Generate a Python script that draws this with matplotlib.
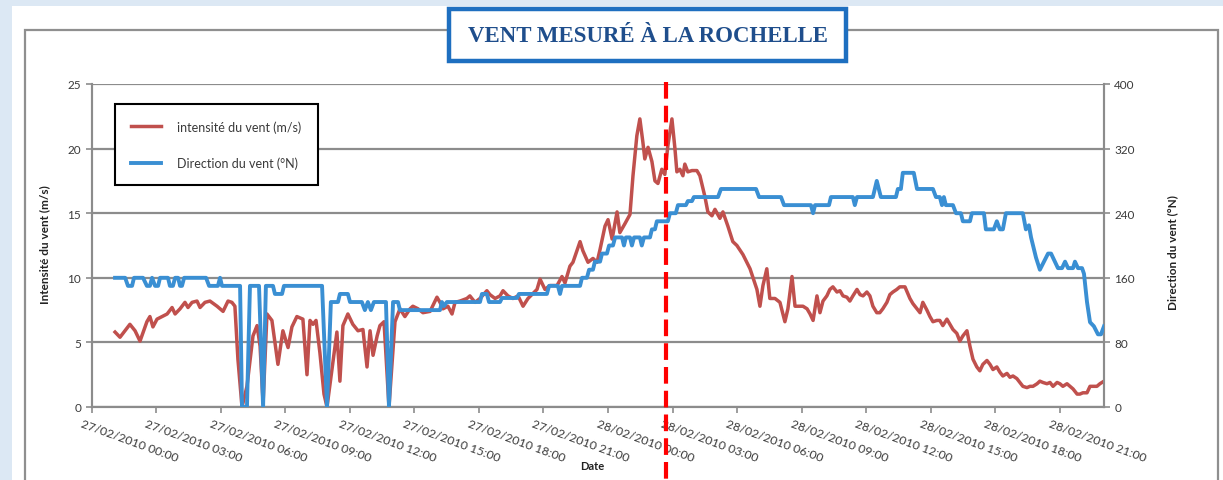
import matplotlib
matplotlib.use("Agg")
import matplotlib.pyplot as plt
import matplotlib.transforms as mtransforms
from matplotlib.patches import Rectangle
from matplotlib.lines import Line2D

# hours since 27/02/2010 00:00
speed_hours = [
    1.09, 1.32, 1.78, 2.02, 2.25, 2.57, 2.71, 2.85, 3.04, 3.27, 3.51, 3.74, 3.88, 4.11, 4.34,
    4.48, 4.67, 4.90, 5.04, 5.27, 5.50, 5.83, 6.11, 6.34, 6.52, 6.66, 6.80, 6.99, 7.22, 7.50,
    7.69, 7.83, 7.97, 8.15, 8.38, 8.66, 8.89, 9.13, 9.31, 9.54, 9.82, 10.01, 10.15, 10.29,
    10.43, 10.61, 10.80, 10.94, 11.22, 11.40, 11.54, 11.68, 11.91, 12.14, 12.38, 12.61, 12.80,
    12.94, 13.08, 13.27, 13.40, 13.59, 13.82, 14.10, 14.33, 14.56, 14.80, 14.93, 15.17, 15.40,
    15.73, 16.05, 16.19, 16.33, 16.56, 16.75, 16.89, 17.12, 17.44, 17.58, 17.82, 18.05, 18.37,
    18.51, 18.75, 18.98, 19.12, 19.35, 19.58, 19.82, 20.05, 20.28, 20.70, 20.84, 21.07, 21.30,
    21.63, 21.86, 22.00, 22.23, 22.37, 22.70, 22.83, 23.07, 23.30, 23.49, 23.63, 23.86, 24.00,
    24.19, 24.42, 24.55, 24.79, 25.02, 25.16, 25.34, 25.48, 25.62, 25.71, 25.86, 26.04, 26.18,
    26.32, 26.50, 26.64, 26.78, 26.97, 27.11, 27.20, 27.34, 27.48, 27.57, 27.71, 27.90, 28.13,
    28.27, 28.50, 28.64, 28.83, 28.97, 29.20, 29.34, 29.57, 29.80, 29.99, 30.27, 30.60, 30.92,
    31.06, 31.20, 31.38, 31.52, 31.76, 31.99, 32.22, 32.36, 32.55, 32.69, 32.92, 33.06, 33.25,
    33.39, 33.53, 33.71, 33.85, 33.99, 34.17, 34.31, 34.45, 34.64, 34.78, 34.92, 35.10, 35.24,
    35.38, 35.57, 35.71, 35.85, 36.03, 36.17, 36.31, 36.49, 36.63, 36.77, 36.96, 37.10, 37.24,
    37.42, 37.56, 37.80, 38.03, 38.17, 38.36, 38.50, 38.63, 38.82, 38.96, 39.10, 39.28, 39.42,
    39.56, 39.75, 39.89, 40.03, 40.21, 40.35, 40.49, 40.68, 40.82, 40.96, 41.14, 41.28, 41.42,
    41.61, 41.75, 41.89, 42.07, 42.21, 42.35, 42.54, 42.68, 42.82, 43.00, 43.14, 43.28, 43.47,
    43.61, 43.75, 43.94, 44.07, 44.21, 44.40, 44.54, 44.68, 44.87, 45.00, 45.14, 45.33, 45.47,
    45.61, 45.80, 45.93, 46.07, 46.26, 46.40, 46.54, 46.72, 46.86, 47.05,
]
speed = [
    5.8, 5.4, 6.4, 5.9, 5.1, 6.6, 7.0, 6.2, 6.8, 7.0, 7.2, 7.7, 7.2, 7.6, 8.1,
    7.7, 8.1, 8.2, 7.7, 8.1, 8.2, 7.8, 7.4, 8.2, 8.1, 7.8, 3.7, 0.0, 1.6, 5.5,
    6.3, 4.7, 0.3, 7.2, 6.7, 3.3, 5.9, 4.6, 6.2, 7.0, 6.8, 2.5, 6.7, 6.4,
    6.7, 4.2, 1.0, 0.0, 3.5, 5.8, 2.0, 6.3, 7.2, 6.4, 5.9, 6.0, 3.1,
    5.9, 4.0, 5.5, 6.3, 6.6, 0.0, 6.6, 7.6, 7.0, 7.6, 7.8, 7.6, 7.3,
    7.4, 8.5, 8.1, 7.6, 7.8, 7.2, 8.1, 8.2, 8.4, 8.6, 8.1, 8.4, 9.0,
    8.7, 8.4, 8.6, 9.0, 8.6, 8.4, 8.6, 7.8, 8.4, 9.1, 9.9, 9.1, 9.4,
    9.4, 10.1, 9.6, 10.9, 11.2, 12.8, 12.1, 11.2, 11.5, 11.2, 12.2, 14.0, 14.5,
    13.0, 15.1, 13.5, 14.2, 14.9, 17.9, 21.0, 22.3, 20.5, 19.2, 20.1, 19.0, 17.5,
    17.3, 18.4, 18.0, 20.2, 22.3, 20.0, 18.2, 18.4, 17.9, 18.8, 18.2, 18.3, 18.3,
    17.9, 16.3, 15.1, 14.8, 15.3, 14.6, 15.1, 14.0, 12.8, 12.5, 11.8, 10.7, 9.1,
    7.8, 9.4, 10.7, 8.4, 8.4, 8.1, 6.6, 7.6, 10.1, 7.8, 7.8, 7.8, 7.6,
    7.2, 6.7, 8.6, 7.3, 8.2, 8.6, 9.1, 9.3, 8.9, 9.0, 8.6, 8.5, 8.2,
    8.6, 9.1, 8.7, 8.6, 8.9, 8.6, 7.8, 7.3, 7.3, 7.6, 8.1, 8.7, 8.9,
    9.1, 9.3, 9.3, 8.4, 8.0, 7.6, 7.3, 8.1, 7.5, 7.0, 6.6, 6.7, 6.7,
    6.3, 6.8, 6.4, 6.0, 5.7, 5.1, 5.5, 5.9, 4.7, 3.7, 3.1, 2.8, 3.3,
    3.6, 3.3, 2.9, 3.1, 2.7, 2.4, 2.6, 2.3, 2.4, 2.2, 1.9, 1.6, 1.5,
    1.6, 1.6, 1.8, 2.0, 1.9, 1.8, 1.9, 1.6, 1.9, 1.8, 1.6, 1.8, 1.6,
    1.4, 1.0, 1.0, 1.1, 1.1, 1.6, 1.6, 1.6, 1.8, 2.0,
]

dir_hours = [
    1.09, 1.56, 1.69, 1.88, 1.97, 2.39, 2.57, 2.71, 2.81, 2.95, 3.09, 3.18, 3.55, 3.64, 3.78,
    3.88, 4.02, 4.11, 4.20, 4.30, 5.32, 5.46, 5.87, 5.97, 6.06, 6.90, 6.99, 7.22, 7.36, 7.78,
    7.97, 8.10, 8.43, 8.52, 8.85, 8.94, 10.71, 10.94, 11.12, 11.45, 11.54, 11.91, 12.01, 12.56,
    12.70, 12.84, 12.98, 13.12, 13.68, 13.82, 14.01, 14.24, 14.33, 16.19, 16.28, 16.38, 16.51,
    18.05, 18.14, 18.37, 18.47, 18.98, 19.07, 19.77, 19.86, 21.16, 21.26, 21.67, 21.77, 21.86,
    22.70, 22.79, 23.02, 23.12, 23.30, 23.39, 23.63, 23.72, 23.95, 24.05, 24.23, 24.33, 24.65,
    24.74, 24.83, 25.02, 25.11, 25.21, 25.48, 25.57, 25.67, 25.95, 26.04, 26.18, 26.27, 26.78,
    26.88, 27.15, 27.25, 27.62, 27.71, 27.90, 27.99, 29.11, 29.25, 30.88, 31.02, 32.04, 32.18,
    33.43, 33.53, 33.62, 34.27, 34.36, 35.38, 35.47, 35.57, 36.31, 36.49, 36.68, 37.38, 37.47,
    37.61, 37.70, 38.21, 38.36, 39.10, 39.24, 39.42, 39.52, 39.61, 39.70, 40.03, 40.17, 40.40,
    40.49, 40.82, 40.91, 41.47, 41.56, 41.93, 42.07, 42.21, 42.35, 42.49, 43.28, 43.42, 43.56,
    43.66, 43.89, 44.07, 44.26, 44.45, 44.59, 44.77, 44.91, 45.10, 45.24, 45.38, 45.61, 45.70,
    45.84, 46.03, 46.12, 46.26, 46.40, 46.58, 46.77, 46.91, 47.05,
]
direction = [
    160, 160, 150, 150, 160, 160, 150, 150, 160, 150, 150, 160, 160, 150, 150,
    160, 160, 150, 150, 160, 160, 150, 150, 160, 150, 150, 0, 0, 150, 150,
    0, 150, 150, 140, 140, 150, 150, 0, 130, 130, 140, 140, 130, 130,
    120, 130, 120, 130, 130, 0, 130, 130, 120, 120, 130, 125, 130,
    130, 140, 140, 130, 130, 135, 135, 140, 140, 150, 150, 140, 150,
    150, 160, 160, 170, 170, 180, 180, 190, 190, 200, 200, 210, 210,
    200, 210, 210, 200, 210, 210, 200, 210, 210, 220, 220, 230, 230,
    240, 240, 250, 250, 255, 255, 260, 260, 270, 270, 260, 260, 250,
    250, 240, 250, 250, 260, 260, 250, 260, 260, 280, 260, 260, 270,
    270, 290, 290, 270, 270, 260, 260, 250, 260, 250, 250, 240, 240,
    230, 230, 240, 240, 220, 220, 230, 220, 220, 240, 240, 220, 225,
    210, 185, 170, 180, 190, 190, 180, 172, 172, 180, 172, 172, 180,
    172, 172, 165, 130, 105, 100, 90, 90, 100,
]

tick_hours = list(range(0, 48, 3))
tick_labels = [f"27/02/2010 {h:02d}:00" for h in range(0, 24, 3)] + \
              [f"28/02/2010 {h:02d}:00" for h in range(0, 24, 3)]

W, H = 1223, 481
def fx(x):
    return x / W
def fy(y):
    return 1 - y / H

plt.rcParams['font.family'] = ['Lato', 'DejaVu Sans']
RED = '#c0504d'
BLUE = '#3a8fd3'
GRID = '#8c8c8c'
TXT = '#3a3a3a'

fig = plt.figure(figsize=(W / 100, H / 100), dpi=100)
fig.patch.set_facecolor('#dce8f4')

# white panel and grey chart frame
fig.add_artist(Rectangle((fx(12), 0), 1 - fx(12), fy(7), transform=fig.transFigure,
                         fc='white', ec='none', zorder=-20))
fig.add_artist(Rectangle((fx(25), -0.05), fx(1218) - fx(25), fy(31) + 0.05,
                         transform=fig.transFigure, fill=False, ec='#8f8f8f', lw=1.6, zorder=-10))

ax = fig.add_axes([fx(91.6), fy(408), fx(1104) - fx(91.6), (408 - 85) / H])
ax2 = ax.twinx()

ax.plot(speed_hours, speed, color=RED, lw=2.5, label='intensité du vent (m/s)', zorder=3)
ax2.plot(dir_hours, direction, color=BLUE, lw=2.8, label='Direction du vent (°N)', zorder=3)

ax.set_xlim(0, 47.05)
ax.set_ylim(0, 25)
ax2.set_ylim(0, 400)
ax.set_yticks(range(0, 26, 5))
ax2.set_yticks(range(0, 401, 80))
ax.yaxis.grid(True, color=GRID, lw=1.6)
ax.set_axisbelow(True)

for a in (ax, ax2):
    for s in a.spines.values():
        s.set_color(GRID)
        s.set_linewidth(1.5)
    a.spines['top'].set_visible(False)
    a.tick_params(colors=GRID, labelcolor=TXT, labelsize=8.5, length=4, width=1.2)

ax.set_xticks(tick_hours)
ax.set_xticklabels(tick_labels, rotation=-20, ha='left', va='top', rotation_mode='anchor')
shift = mtransforms.ScaledTranslation(-9 / 100, 0, fig.dpi_scale_trans)
for lbl in ax.get_xticklabels():
    lbl.set_fontsize(8.8)
    lbl.set_transform(lbl.get_transform() + shift)

ax.set_ylabel('Intensité du vent (m/s)', fontweight='bold', fontsize=8.5, color='#222222')
ax.yaxis.set_label_coords(-0.041, 0.505)
ax2.set_ylabel('Direction du vent (°N)', fontweight='bold', fontsize=8.5, color='#222222')
ax2.yaxis.set_label_coords(1.062, 0.48)
ax.set_xlabel('Date', fontweight='bold', fontsize=8, color='#222222')
ax.xaxis.set_label_coords(0.495, -0.165)

h1, l1 = ax.get_legend_handles_labels()
h2, l2 = ax2.get_legend_handles_labels()
leg = ax2.legend(h1 + h2, l1 + l2, loc='upper left', bbox_to_anchor=(0.023, 0.938),
                 borderaxespad=0, fancybox=False, framealpha=1, fontsize=9,
                 handlelength=2.4, labelspacing=1.9, borderpad=1.3, handletextpad=1.3)
leg.get_frame().set_edgecolor('black')
leg.get_frame().set_linewidth(1.5)
for t in leg.get_texts():
    t.set_color(TXT)

# title box
fig.add_artist(Rectangle((fx(449), fy(62)), fx(846) - fx(449), (62 - 10) / H,
                         transform=fig.transFigure, fc='white', ec='#1e6fc0', lw=3.2, zorder=5))
fig.text(fx(648), fy(36), 'VENT MESURÉ À LA ROCHELLE', ha='center', va='center',
         family='Liberation Serif', fontweight='bold', fontsize=16.5, color='#1f4e8c', zorder=6)

# dashed marker
fig.add_artist(Line2D([fx(666), fx(666)], [fy(83), 0], transform=fig.transFigure,
                      color='#ff0000', lw=3, dashes=(4, 1.7), zorder=10))

fig.savefig('out.png', dpi=100, facecolor=fig.get_facecolor())
